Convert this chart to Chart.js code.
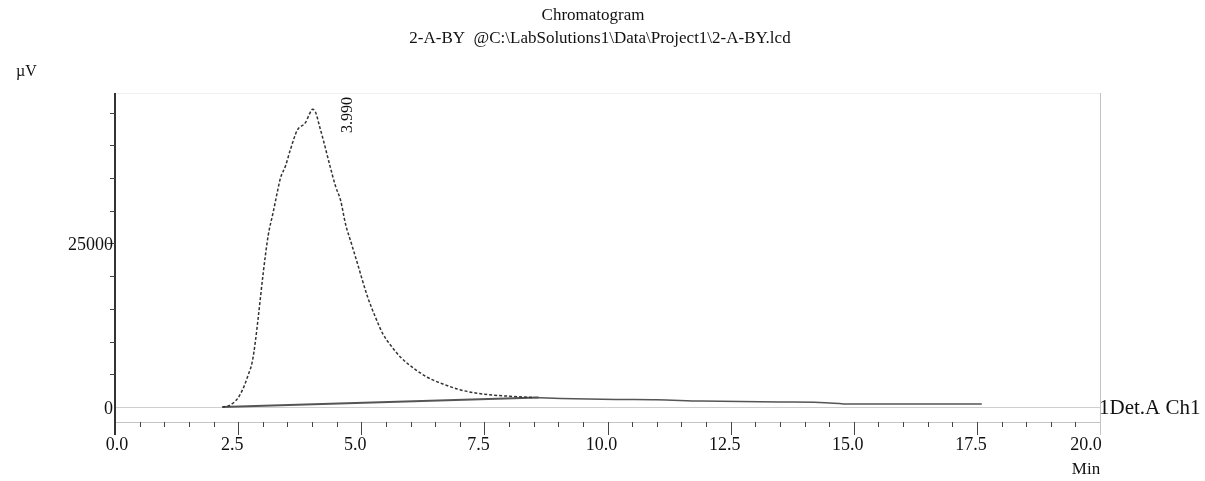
<!DOCTYPE html>
<html>
<head>
    <title>Chromatogram</title>
    <script src="https://cdn.jsdelivr.net/npm/chart.js"></script>
    <style>
        body { margin: 0; background: #fff; }
    </style>
</head>
<body>
    <canvas id="chromChart" width="1205" height="481"></canvas>

    <script>
        // chart text
        const titleLines = ['Chromatogram', '2-A-BY  @C:\\LabSolutions1\\Data\\Project1\\2-A-BY.lcd'];
        const yUnit = '\u00b5V';
        const xUnit = 'Min';
        const traceName = '1Det.A Ch1';

        // chromatogram trace (min, uV)
        const timeMin = [2.18, 2.30, 2.40, 2.50, 2.60, 2.70, 2.79, 2.85, 2.91, 3.01,
                         3.11, 3.21, 3.30, 3.36, 3.46, 3.56, 3.70, 3.87, 3.95, 4.01,
                         4.07, 4.15, 4.23, 4.37, 4.48, 4.58, 4.68, 4.80, 4.92, 5.13,
                         5.30, 5.43, 5.60, 5.80, 6.05, 6.35, 6.70, 7.02, 7.35, 7.69,
                         8.10, 8.50, 9.05, 10.2, 11.0, 11.9, 13.5, 14.3, 14.95, 16.5, 17.6];
        const signalUV = [0, 150, 600, 1400, 2800, 4800, 7000, 10000, 13800, 20500,
                          26200, 29700, 33000, 35000, 36800, 39300, 42300, 43500, 44800, 45500,
                          45100, 43000, 40800, 36700, 33700, 31600, 28000, 25000, 22000, 16800,
                          13500, 11300, 9400, 7600, 6000, 4500, 3400, 2600, 2100, 1800,
                          1600, 1450, 1300, 1150, 1100, 900, 750, 700, 450, 450, 450];

        // integration baseline under the peak
        const baseTime = [2.18, 8.6];
        const baseUV = [0, 1450];

        // peak label
        const peakTime = 3.99;
        const peakLabel = '3.990';

        // axis ticks
        const xTicks = [0, 2.5, 5, 7.5, 10, 12.5, 15, 17.5, 20];
        const xTickLabels = ['0.0', '2.5', '5.0', '7.5', '10.0', '12.5', '15.0', '17.5', '20.0'];
        const yTicks = [0, 25000];
        const yTickLabels = ['0', '25000'];

        const serif = '"Liberation Serif", "DejaVu Serif", serif';

        function seg(ctx, x1, y1, x2, y2) {
            ctx.beginPath();
            ctx.moveTo(x1, y1);
            ctx.lineTo(x2, y2);
            ctx.stroke();
        }

        const framePlugin = {
            id: 'frame',
            beforeDatasetsDraw(chart) {
                const { ctx, chartArea: a, scales: { y } } = chart;
                ctx.save();
                ctx.strokeStyle = '#cfcfcf';
                ctx.lineWidth = 1;
                const y0 = Math.round(y.getPixelForValue(0)) + 0.5;
                seg(ctx, a.left, y0, a.right, y0);
                ctx.restore();
            },
            afterDraw(chart) {
                const { ctx, chartArea: a, scales: { x, y } } = chart;
                ctx.save();

                // frame
                ctx.lineWidth = 1;
                ctx.strokeStyle = '#f0f0f0';
                seg(ctx, a.left, a.top + 0.5, a.right, a.top + 0.5);
                ctx.strokeStyle = '#c4c4c4';
                seg(ctx, a.left, a.bottom + 0.5, a.right, a.bottom + 0.5);
                seg(ctx, a.right + 0.5, a.top, a.right + 0.5, a.bottom + 13);
                ctx.strokeStyle = '#333';
                ctx.lineWidth = 2;
                seg(ctx, a.left, a.top, a.left, a.bottom + 13);

                // x ticks every 0.5 min
                ctx.lineWidth = 1;
                ctx.strokeStyle = '#444';
                for (let i = 1; i < 40; i++) {
                    const px = Math.round(x.getPixelForValue(i * 0.5)) + 0.5;
                    const len = i % 5 === 0 ? 13 : 5;
                    seg(ctx, px, a.bottom, px, a.bottom + len);
                }
                // y ticks every 5000
                for (let v = 5000; v < y.max; v += 5000) {
                    const py = Math.round(y.getPixelForValue(v)) + 0.5;
                    const len = v % 25000 === 0 ? 8 : 5;
                    seg(ctx, a.left - len, py, a.left, py);
                }

                ctx.fillStyle = '#111';
                ctx.font = '18px ' + serif;
                ctx.textBaseline = 'middle';

                // x labels
                ctx.textAlign = 'center';
                xTicks.forEach((v, i) => {
                    let px = x.getPixelForValue(v) - 6;
                    if (i === 0) px += 8;
                    if (i === xTicks.length - 1) px -= 8;
                    ctx.fillText(xTickLabels[i], px, a.bottom + 23);
                });
                ctx.font = '17px ' + serif;
                ctx.fillText(xUnit, a.right - 14, a.bottom + 48);

                // y labels
                ctx.font = '18px ' + serif;
                ctx.textAlign = 'right';
                yTicks.forEach((v, i) => {
                    ctx.fillText(yTickLabels[i], a.left - 2, y.getPixelForValue(v) + 2);
                });
                ctx.font = '16px ' + serif;
                ctx.textAlign = 'left';
                ctx.fillText(yUnit, 16, 72);

                // trace name at the right end of the zero line
                ctx.font = '21px ' + serif;
                ctx.fillText(traceName, a.right - 1, y.getPixelForValue(0) + 2);

                // title
                ctx.font = '17px ' + serif;
                ctx.textAlign = 'center';
                ctx.fillText(titleLines[0], 593, 16);
                ctx.fillText(titleLines[1], 600, 39);

                // peak label, rotated
                ctx.font = '16px ' + serif;
                ctx.translate(x.getPixelForValue(peakTime) + 36, a.top + 4);
                ctx.rotate(-Math.PI / 2);
                ctx.textAlign = 'right';
                ctx.fillText(peakLabel, 0, 0);

                ctx.restore();
            }
        };

        const tailStart = 8.5;

        const ctx = document.getElementById('chromChart').getContext('2d');
        const chromChart = new Chart(ctx, {
            type: 'line',
            data: {
                datasets: [{
                    label: traceName,
                    data: timeMin.map((t, i) => ({ x: t, y: signalUV[i] })),
                    borderColor: '#333',
                    borderWidth: 1.5,
                    borderDash: [3, 2],
                    pointRadius: 0,
                    cubicInterpolationMode: 'monotone',
                    segment: {
                        borderDash: c => c.p0.parsed.x >= tailStart ? [] : [3, 2],
                        borderColor: c => c.p0.parsed.x >= tailStart ? '#555' : '#333'
                    }
                }, {
                    label: 'baseline',
                    data: baseTime.map((t, i) => ({ x: t, y: baseUV[i] })),
                    borderColor: '#555',
                    borderWidth: 2,
                    pointRadius: 0
                }]
            },
            options: {
                responsive: false,
                animation: false,
                layout: { padding: { left: 115, right: 105, top: 93, bottom: 59 } },
                plugins: {
                    legend: { display: false },
                    title: { display: false },
                    tooltip: { enabled: false }
                },
                scales: {
                    x: { type: 'linear', display: false, min: 0, max: 20 },
                    y: { type: 'linear', display: false, min: -2300, max: 48000 }
                }
            },
            plugins: [framePlugin]
        });
    </script>
</body>
</html>
